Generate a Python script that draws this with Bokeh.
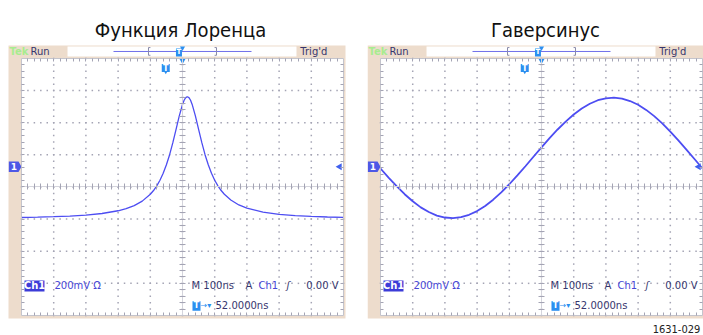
import numpy as np
from bokeh.plotting import figure
from bokeh.layouts import row
from bokeh.models import Range1d, LinearAxis, FixedTicker
from bokeh.core.properties import value
from bokeh.embed import file_html
from bokeh.resources import INLINE

# ---------------- data ----------------
titles = ["Функция Лоренца", "Гаверсинус"]

lorentz_t = [-500, -450, -400, -350, -300, -250, -200, -175, -150, -125, -100,
             -90, -80, -70, -60, -50, -40, -30, -20, -10, 0, 5, 10, 15, 20, 25, 30,
             40, 50, 60, 70, 80, 90, 100, 110, 120, 130, 150, 175, 200, 250, 300,
             350, 400, 450, 500]
lorentz_mv = [-190, -188, -185, -181, -175, -165, -148, -135, -116, -88, -45,
              -22, 7, 42, 85, 138, 201, 276, 359, 443, 514, 540, 556, 562, 556, 540, 514,
              443, 359, 276, 201, 138, 85, 42, 7, -22, -45, -81, -112, -132, -156, -170,
              -178, -183, -187, -189]

haversine_t = [-500, -475, -450, -425, -400, -375, -350, -325, -300, -275, -250,
               -225, -200, -175, -150, -125, -100, -75, -50, -25, 0, 25, 50, 75, 100,
               125, 150, 175, 200, 225, 250, 275, 300, 325, 350, 375, 400, 425, 450,
               475, 500]
haversine_mv = [115, 58, 5, -45, -89, -127, -156, -178, -190, -194, -188,
                -173, -150, -118, -79, -34, 17, 72, 129, 188, 247, 304, 358, 407, 451,
                489, 518, 540, 552, 556, 550, 535, 512, 480, 441, 396, 345, 290, 233,
                174, 115]

status_left = "Run"
status_right = "Trig'd"
brand = "Tek"
ch_label = "Ch1"
volts_label = "200mV Ω"
timebase_label = "M 100ns"
trig_mode = "A"
trig_src = "Ch1"
trig_slope = "ʃ"
trig_level = "0.00 V"
trig_pos_label = "52.0000ns"
trig_delay_ns = 52
ch1_ground_div = 0.63
figure_code = "1631-029"

NS_PER_DIV = 100
MV_PER_DIV = 200

# ---------------- styling ----------------
BEIGE = "#eddccc"
CURVE = "#4d4df2"
DOT = "#a4a4b4"
EDGE = "#c4c4cc"
AZURE = "#2b8ff0"
NAVY = "#36366e"
BLUE_TXT = "#4646d6"
FONT = value("DejaVu Sans")
NARROW = value("Liberation Sans Narrow, DejaVu Sans Condensed, Roboto Condensed, Arial Narrow, Roboto, sans-serif")


def X(d):
    return np.asarray(d, dtype=float) * NS_PER_DIV


def Y(d):
    return np.asarray(d, dtype=float) * MV_PER_DIV


def add_edge_axis(p, side, loc, minor, bounds, tin, tout, line_color):
    ax = LinearAxis(fixed_location=loc,
                    ticker=FixedTicker(ticks=[], minor_ticks=list(minor)),
                    bounds=bounds,
                    axis_line_color=line_color, axis_line_width=1,
                    major_tick_line_color=None,
                    minor_tick_line_color=DOT, minor_tick_line_width=1,
                    minor_tick_in=tin, minor_tick_out=tout)
    p.add_layout(ax, side)


def panel(title, title_cx, t, mv, curve_width, left_div, right_div, width, beige_right, show_code):
    bottom_div, top_div = -4.623, 5.805
    p = figure(width=width, height=335,
               x_range=Range1d(float(X(left_div)), float(X(right_div))),
               y_range=Range1d(float(Y(bottom_div)), float(Y(top_div))),
               x_axis_type=None, y_axis_type=None,
               toolbar_location=None, output_backend="svg", min_border=0,
               background_fill_color="white", border_fill_color="white",
               outline_line_color=None)

    # scope bezel + screen
    p.quad(left=[X(-5.404)], right=[X(beige_right)], top=[Y(4.405)], bottom=[Y(-4.093)],
           fill_color=BEIGE, line_color=None)
    p.quad(left=[X(-5)], right=[X(5)], top=[Y(4)], bottom=[Y(-4)],
           fill_color="white", line_color=None)
    # header record-view box
    p.quad(left=[X(-3.571)], right=[X(3.540)], top=[Y(4.373)], bottom=[Y(4.062)],
           fill_color="white", line_color=None)

    # dotted graticule
    sub = np.round(np.arange(-20, 21) * 0.2, 3)
    subx = np.round(np.arange(-25, 26) * 0.2, 3)
    vx, vy = [], []
    for d in range(-4, 5):
        vx += [d] * len(sub)
        vy += list(sub)
    for d in range(-3, 4):
        vx += list(subx)
        vy += [d] * len(subx)
    p.scatter(X(vx), Y(vy), marker="square", size=1.5, fill_color=DOT, line_color=None)

    # screen edges and centre cross with tick marks
    mx = X(np.round(np.arange(-24, 25) * 0.2, 3))
    my = Y(np.round(np.arange(-19, 20) * 0.2, 3))
    xb = (float(X(-5)), float(X(5)))
    yb = (float(Y(-4)), float(Y(4)))
    add_edge_axis(p, "below", float(Y(-4)), mx, xb, 3, 0, EDGE)
    add_edge_axis(p, "above", float(Y(4)), mx, xb, 3, 0, EDGE)
    add_edge_axis(p, "left", float(X(-5)), my, yb, 3, 0, EDGE)
    add_edge_axis(p, "right", float(X(5)), my, yb, 3, 0, EDGE)
    add_edge_axis(p, "below", 0.0, mx, xb, 3, 3, "#d4d4dc")
    add_edge_axis(p, "left", 0.0, my, yb, 3, 3, "#d4d4dc")

    # waveform
    p.line(t, mv, line_color=CURVE, line_width=curve_width)

    # title
    p.text(x=[X(title_cx)], y=[Y(4.90)], text=[title], text_font=NARROW,
           text_font_size="20px", text_align="center", text_baseline="alphabetic",
           text_color="#111111")

    # header
    hy = 4.209
    p.text(x=[X(-5.37)], y=[Y(hy)], text=[brand], text_font=FONT, text_font_size="10px",
           text_font_style="bold", text_color="#a8ec90", text_align="left", text_baseline="middle")
    p.text(x=[X(-4.72)], y=[Y(hy)], text=[status_left], text_font=FONT, text_font_size="10px",
           text_color=NAVY, text_align="left", text_baseline="middle")
    p.text(x=[X(3.66)], y=[Y(hy)], text=[status_right], text_font=FONT, text_font_size="10px",
           text_color=NAVY, text_align="left", text_baseline="middle")
    p.segment(x0=[X(-2.143)], y0=[Y(4.218)], x1=[X(2.143)], y1=[Y(4.218)],
              line_color="#7070ea", line_width=1)
    for s in (-1, 1):
        p.multi_line(xs=[[X(s * 1.056 - s * 0.06), X(s * 1.056), X(s * 1.056), X(s * 1.056 - s * 0.06)]],
                     ys=[[Y(4.34), Y(4.34), Y(4.10), Y(4.10)]], line_color="#8a8aa8", line_width=1)
    p.scatter([X(0)], [Y(4.325)], marker="inverted_triangle", size=5, fill_color=AZURE, line_color=None)
    p.rect([X(-0.11)], [Y(4.19)], width=6, height=8, width_units="screen", height_units="screen",
           fill_color=AZURE, line_color=None)
    p.text(x=[X(-0.11)], y=[Y(4.19)], text=["T"], text_font=FONT, text_font_size="7px",
           text_font_style="bold", text_color="white", text_align="center", text_baseline="middle")

    # trigger markers
    p.scatter([X(0)], [Y(3.95)], marker="inverted_triangle", size=7, fill_color=AZURE, line_color=None)
    p.rect([-trig_delay_ns], [Y(3.70)], width=8, height=8, width_units="screen", height_units="screen",
           fill_color=AZURE, line_color=None)
    p.scatter([-trig_delay_ns], [Y(3.60)], marker="inverted_triangle", size=5, fill_color=AZURE,
              line_color=None)
    p.text(x=[-trig_delay_ns], y=[Y(3.70)], text=["T"], text_font=FONT, text_font_size="8px",
           text_font_style="bold", text_color="white", text_align="center", text_baseline="middle")

    # channel ground marker and trigger level marker
    gy = ch1_ground_div
    p.patch(X([-5.394, -5.093, -5.0, -5.093, -5.394]),
            Y([gy + 0.166, gy + 0.166, gy, gy - 0.166, gy - 0.166]),
            fill_color="#4d58e6", line_color=None)
    p.text(x=[X(-5.24)], y=[Y(gy)], text=["1"], text_font=FONT, text_font_size="9px",
           text_font_style="bold", text_color="white", text_align="center", text_baseline="middle")
    p.scatter([X(4.88)], [Y(gy)], marker="triangle", angle=np.pi / 2, size=7,
              fill_color="#4060ee", line_color=None)

    # bottom readouts
    by = -3.082
    p.quad(left=[X(-4.907)], right=[X(-4.286)], top=[Y(-2.911)], bottom=[Y(-3.253)],
           fill_color="#3c3cd8", line_color=None)
    p.text(x=[X(-4.596)], y=[Y(by)], text=[ch_label], text_font=FONT, text_font_size="10px",
           text_font_style="bold", text_color="white", text_align="center", text_baseline="middle")
    p.text(x=[X(-3.975)], y=[Y(by)], text=[volts_label], text_font=FONT, text_font_size="10px",
           text_color=BLUE_TXT, text_align="left", text_baseline="middle")
    p.text(x=[X(0.28)], y=[Y(by)], text=[timebase_label], text_font=FONT, text_font_size="10px",
           text_color=NAVY, text_align="left", text_baseline="middle")
    p.text(x=[X(1.957)], y=[Y(by)], text=[trig_mode], text_font=FONT, text_font_size="10px",
           text_color=NAVY, text_align="left", text_baseline="middle")
    p.text(x=[X(2.36)], y=[Y(by)], text=[trig_src], text_font=FONT, text_font_size="10px",
           text_color=BLUE_TXT, text_align="left", text_baseline="middle")
    p.text(x=[X(3.23)], y=[Y(by)], text=[trig_slope], text_font=FONT, text_font_size="10px",
           text_font_style="italic", text_color=NAVY, text_align="left", text_baseline="middle")
    p.text(x=[X(4.845)], y=[Y(by)], text=[trig_level], text_font=FONT, text_font_size="10px",
           text_color=NAVY, text_align="right", text_baseline="middle")

    ty = -3.704
    p.quad(left=[X(0.31)], right=[X(0.559)], top=[Y(ty + 0.15)], bottom=[Y(ty - 0.15)],
           fill_color=AZURE, line_color=None)
    p.text(x=[X(0.435)], y=[Y(ty)], text=["T"], text_font=FONT, text_font_size="8px",
           text_font_style="bold", text_color="white", text_align="center", text_baseline="middle")
    p.text(x=[X(0.56)], y=[Y(ty)], text=["→▾"], text_font=FONT, text_font_size="8px",
           text_color=AZURE, text_align="left", text_baseline="middle")
    p.text(x=[X(1.025)], y=[Y(ty)], text=[trig_pos_label], text_font=FONT, text_font_size="10px",
           text_color=NAVY, text_align="left", text_baseline="middle")

    if show_code:
        p.text(x=[X(right_div - 0.1)], y=[Y(-4.43)], text=[figure_code],
               text_font=NARROW, text_font_size="11px",
               text_color="#222222", text_align="right", text_baseline="alphabetic")
    return p


p1 = panel(titles[0], -0.062, lorentz_t, lorentz_mv, 1.3, -5.652, 5.745, 367, 5.062, False)
p2 = panel(titles[1], 0.124, haversine_t, haversine_mv, 1.8, -5.404, 5.031, 336, 5.3, True)

layout = row(p1, p2)
open("out.html", "w", encoding="utf-8").write(file_html(layout, INLINE))
